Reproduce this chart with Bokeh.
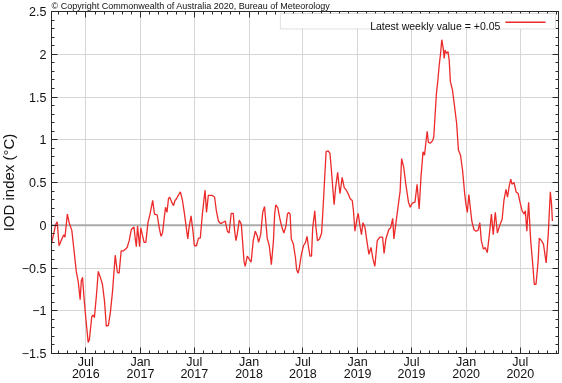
import numpy as np
import pandas as pd
from bokeh.plotting import figure
from bokeh.models import (ColumnDataSource, FixedTicker, LinearAxis, Span,
                          BoxAnnotation, CustomJSTickFormatter, Range1d, Arrow, Label)
from bokeh.embed import file_html
from bokeh.resources import INLINE

# ---------------- data ----------------
BASE_DATE = "2016-07-01"   # day_offsets are days after this date
day_offsets = [
    -115, -101, -96, -90, -83, -74, -70, -62, -56, -47, -40, -32, -25, -19, -15, -11, -5, 2, 8, 12,
    20, 25, 29, 36, 42, 49, 56, 63, 69, 76, 83, 90, 99, 106, 112, 119, 126, 133, 139, 146,
    153, 162, 166, 170, 174, 181, 185, 190, 196, 202, 209, 216, 225, 231, 240,
    247, 253, 258, 264, 268, 273, 278, 282, 289, 295, 300, 305, 311, 318, 325, 332, 338, 343, 347, 354,
    361, 365, 372, 379, 385, 392, 397, 401, 406, 412, 424, 433, 439, 446, 453, 460, 469, 476, 482, 489,
    496, 500, 505, 509, 516, 523, 527, 532, 536, 543, 550, 556, 563, 570, 577, 581, 588, 595, 601,
    610, 617, 624, 631, 635, 639, 646, 653, 660, 666, 673, 678, 682, 687, 691, 698, 705, 709, 714, 718,
    725, 732, 739, 744, 749, 754, 759, 763, 768, 770, 774, 779, 786, 793, 798, 804, 808, 815, 821, 826,
    832, 835, 840, 847, 851, 855, 862, 869, 876, 882, 889, 896, 900, 905, 912, 916, 921, 927, 932, 939,
    945, 952, 959, 966, 972,
    980, 989, 998, 1003, 1009, 1019, 1025, 1032, 1036, 1046, 1057, 1062, 1069, 1076, 1085, 1091, 1098, 1107, 1114, 1121,
    1127, 1134, 1139, 1143, 1148, 1152, 1159, 1166, 1170, 1175, 1179, 1184, 1188, 1193, 1197, 1202, 1205, 1208, 1213, 1218,
    1222, 1226, 1233, 1240, 1247, 1253, 1260, 1267, 1274, 1278, 1283, 1288,
    1298, 1305, 1312, 1319, 1325, 1330, 1337, 1343, 1350, 1357, 1364, 1370, 1377, 1384, 1393, 1400, 1406, 1413, 1418, 1424,
    1429, 1433, 1440, 1447, 1454, 1460, 1467, 1474, 1478, 1483, 1489, 1496, 1503, 1508, 1514, 1521, 1525, 1532, 1539, 1543,
    1548, 1555, 1562, 1566, 1569,
]
iod_values = [
    -0.21, 0.01, 0.04, -0.24, -0.18, -0.11, -0.14, 0.13, 0.03, -0.06, -0.28, -0.54, -0.67, -0.87, -0.65, -0.61, -0.89, -1.16, -1.37, -1.34,
    -1.07, -1.05, -1.08, -0.81, -0.54, -0.61, -0.69, -0.89, -1.18, -1.17, -1.01, -0.77, -0.35, -0.55, -0.56, -0.30, -0.30, -0.28, -0.26, -0.18,
    -0.05, -0.02, -0.15, -0.25, -0.01, -0.25, -0.03, -0.11, -0.20, -0.20, 0.03, 0.13, 0.29, 0.13, 0.12,
    -0.03, -0.13, -0.09, 0.09, 0.21, 0.15, 0.31, 0.33, 0.27, 0.23, 0.29, 0.31, 0.35, 0.39, 0.29, 0.13, -0.03, -0.16, -0.03, 0.11,
    -0.09, -0.24, -0.24, -0.15, -0.15, 0.13, 0.29, 0.41, 0.15, 0.35, 0.35, 0.33, 0.17, 0.05, 0.02, 0.03, 0.05, -0.07, -0.09, 0.14,
    0.14, -0.05, -0.18, -0.11, 0.06, 0.01, -0.18, -0.42, -0.48, -0.36, -0.40, -0.43, -0.18, -0.07, -0.13, -0.20, -0.11, 0.15, 0.22,
    -0.15, -0.24, -0.46, -0.18, 0.13, 0.24, 0.20, 0.07, -0.03, -0.09, -0.01, 0.13, 0.15, 0.13, -0.16, -0.22, -0.38, -0.52, -0.56, -0.50,
    -0.34, -0.24, -0.20, -0.13, -0.26, -0.36, -0.36, -0.03, 0.11, 0.17, -0.03, -0.18, -0.16, -0.09, 0.21, 0.60, 0.86, 0.87, 0.84, 0.64,
    0.37, 0.24, 0.44, 0.62, 0.48, 0.37, 0.56, 0.44, 0.41, 0.37, 0.31, 0.29, 0.17, -0.07, 0.08, 0.14, 0.01, -0.11, 0.03, -0.03,
    -0.18, -0.34, -0.26, -0.40, -0.48,
    -0.18, -0.14, -0.14, -0.33, -0.16, -0.05, -0.03, 0.08, -0.16, 0.11, 0.40, 0.78, 0.68, 0.48, 0.27, 0.21, 0.26, 0.27, 0.48, 0.19,
    0.56, 0.86, 0.82, 0.95, 1.10, 0.97, 0.96, 0.99, 1.03, 1.31, 1.54, 1.70, 1.86, 2.01, 2.17, 2.07, 1.95, 2.05, 2.01, 2.03,
    1.93, 1.68, 1.58, 1.39, 1.19, 0.88, 0.82, 0.64, 0.37, 0.25, 0.15, 0.36,
    0.05, -0.05, -0.07, -0.06, 0.03, -0.18, -0.28, -0.26, -0.32, -0.11, 0.13, -0.11, 0.15, -0.09, 0.01, 0.07, 0.29, 0.42, 0.33, 0.46,
    0.54, 0.48, 0.50, 0.39, 0.37, 0.27, 0.17, 0.13, 0.17, -0.07, 0.27, -0.18, -0.46, -0.69, -0.69, -0.42, -0.15, -0.18, -0.22, -0.32,
    -0.44, -0.11, 0.39, 0.25, 0.05,
]

x_tick_dates = ["2016-07-01", "2017-01-01", "2017-07-01", "2018-01-01", "2018-07-01",
                "2019-01-01", "2019-07-01", "2020-01-01", "2020-07-01"]
x_tick_labels = ["Jul\n2016", "Jan\n2017", "Jul\n2017", "Jan\n2018", "Jul\n2018",
                 "Jan\n2019", "Jul\n2019", "Jan\n2020", "Jul\n2020"]
y_ticks = [-1.5, -1.0, -0.5, 0.0, 0.5, 1.0, 1.5, 2.0, 2.5]
y_tick_labels = ["\u22121.5", "\u22121", "\u22120.5", "0", "0.5", "1", "1.5", "2", "2.5"]

y_label = "IOD index (\u00b0C)"
legend_text = "Latest weekly value = +0.05"
copyright_text = "\u00a9 Copyright Commonwealth of Australia 2020, Bureau of Meteorology"

# ---------------- helpers ----------------
EPOCH = pd.Timestamp("1970-01-01")
base = pd.Timestamp(BASE_DATE)


def ms(ts):
    return float((pd.Timestamp(ts) - EPOCH) / pd.Timedelta(milliseconds=1))


def ms_off(days):
    return ms(base + pd.Timedelta(days=days))


dates = [base + pd.Timedelta(days=d) for d in day_offsets]
source = ColumnDataSource(dict(date=dates, iod=iod_values))

x_start, x_end = ms_off(-115.3), ms_off(1589.5)
xt = [ms(d) for d in x_tick_dates]
month_ticks = [ms(d) for d in pd.date_range("2016-04-01", "2020-11-01", freq="MS")]
y_minor = [round(v, 1) for v in np.arange(-1.5, 2.51, 0.1)]

FONT = "Liberation Sans"
RED = "#ec2a2a"
DARK = "#2a2a2a"

p = figure(width=566, height=386, x_axis_type="datetime",
           x_range=Range1d(x_start, x_end), y_range=Range1d(-1.5, 2.5),
           output_backend="svg", toolbar_location=None,
           min_border_left=40, min_border_right=4, min_border_top=10, min_border_bottom=20)
# pin the figure to the window's top-left corner; the thin strip of the canvas
# that lies beyond the window edges holds no marks or texts
p.styles = {"position": "fixed", "top": "-3px", "left": "-4px"}
p.background_fill_color = "white"
p.border_fill_color = "white"
p.outline_line_color = DARK
p.outline_line_width = 1

# copyright line above the frame
p.title.text = copyright_text
p.title.align = "left"
p.title.text_font = FONT
p.title.text_font_size = "9px"
p.title.text_font_style = "normal"
p.title.text_color = "#111111"
p.title.standoff = 2


def style_axis(ax, size="12.5px"):
    ax.axis_line_color = DARK
    ax.major_tick_line_color = DARK
    ax.minor_tick_line_color = DARK
    ax.major_tick_in = 6
    ax.major_tick_out = 0
    ax.minor_tick_in = 3
    ax.minor_tick_out = 0
    ax.major_label_text_font = FONT
    ax.major_label_text_font_size = size
    ax.major_label_text_color = "#111111"


xa = p.xaxis[0]
style_axis(xa)
xa.ticker = FixedTicker(ticks=xt, minor_ticks=month_ticks)
xa.major_label_overrides = dict(zip(xt, x_tick_labels))
xa.major_label_standoff = 1
xa.major_label_text_line_height = 0.875

ya = p.yaxis[0]
style_axis(ya)
ya.ticker = FixedTicker(ticks=y_ticks, minor_ticks=y_minor)
ya.major_label_overrides = dict(zip(y_ticks, y_tick_labels))
ya.major_label_standoff = 5
ya.axis_label = y_label
ya.axis_label_text_font = FONT
ya.axis_label_text_font_size = "15px"
ya.axis_label_text_font_style = "normal"
ya.axis_label_text_color = "#111111"
ya.axis_label_standoff = 2

blank = "return ''"
top = LinearAxis(ticker=FixedTicker(ticks=xt, minor_ticks=month_ticks),
                 formatter=CustomJSTickFormatter(code=blank))
style_axis(top, "0px")
top.major_label_standoff = 0
p.add_layout(top, "above")

right = LinearAxis(ticker=FixedTicker(ticks=y_ticks, minor_ticks=y_minor),
                   formatter=CustomJSTickFormatter(code=blank))
style_axis(right, "0px")
right.major_label_standoff = 0
p.add_layout(right, "right")

p.xgrid[0].ticker = FixedTicker(ticks=xt)
p.ygrid[0].ticker = FixedTicker(ticks=y_ticks)
for g in (p.xgrid[0], p.ygrid[0]):
    g.grid_line_color = "#d6d6d6"
    g.grid_line_width = 1

zero = Span(location=0, dimension="width", line_color="#ababab", line_width=2, level="underlay")
p.add_layout(zero)

p.line("date", "iod", source=source, line_color=RED, line_width=1.3)

# legend (label first, then line sample, as in the original)
box = BoxAnnotation(left=ms_off(654.3), right=ms_off(1579.4), top=2.476, bottom=2.296,
                    fill_color="white", fill_alpha=1.0, line_color="#9a9a9a", line_width=1,
                    level="overlay")
p.add_layout(box)
p.add_layout(Label(x=ms_off(1393.9), y=2.327, text=legend_text, text_align="right",
                   text_baseline="alphabetic", text_font=FONT, text_font_size="10.5px",
                   text_color="#111111", level="overlay"))
p.add_layout(Arrow(x_start=ms_off(1410.8), y_start=2.374, x_end=ms_off(1545.7), y_end=2.374,
                   end=None, line_color=RED, line_width=1.3, level="overlay"))

open("out.html", "w").write(file_html(p, INLINE))
